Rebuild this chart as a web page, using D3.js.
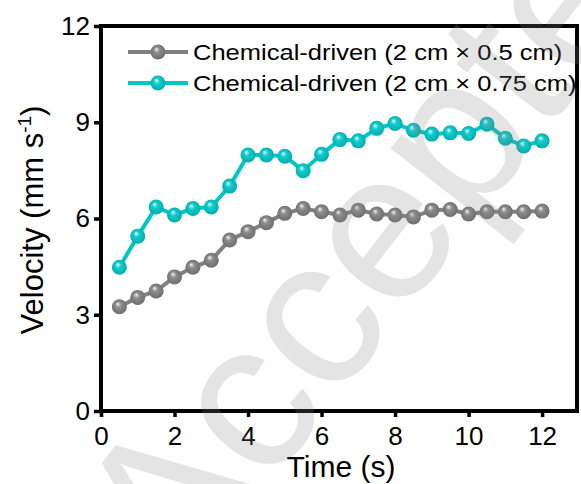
<!DOCTYPE html>
<html>
<head>
<meta charset="utf-8">
<script src="https://cdn.jsdelivr.net/npm/d3@7"></script>
<style>
  body { margin: 0; background: #fff; }
  text { font-family: "Liberation Sans", Arial, sans-serif; }
</style>
</head>
<body>
<div id="chart"></div>
<script>

var width = 581,
    height = 484;

// data
var times = [0.5, 1, 1.5, 2, 2.5, 3, 3.5, 4, 4.5, 5, 5.5, 6, 6.5, 7, 7.5, 8, 8.5, 9, 9.5, 10, 10.5, 11, 11.5, 12];
var velocitySmall = [3.25, 3.54, 3.74, 4.18, 4.48, 4.70, 5.33, 5.59, 5.87, 6.16, 6.31, 6.21, 6.11, 6.26, 6.14, 6.11, 6.05, 6.26, 6.28, 6.14, 6.21, 6.21, 6.21, 6.23];
var velocityLarge = [4.48, 5.45, 6.36, 6.11, 6.31, 6.36, 7.01, 7.98, 7.98, 7.94, 7.49, 8.00, 8.46, 8.42, 8.81, 8.96, 8.75, 8.63, 8.67, 8.65, 8.94, 8.50, 8.26, 8.42];
var seriesNames = ["Chemical-driven (2 cm \u00d7 0.5 cm)", "Chemical-driven (2 cm \u00d7 0.75 cm)"];
var seriesColors = ["#808080", "#00c6c6"];
var xTicks = [0, 2, 4, 6, 8, 10, 12];
var yTicks = [0, 3, 6, 9, 12];

var margin = { top: 26, right: 4, bottom: 73, left: 101 };

var svg = d3.select("#chart")
    .append("svg")
    .attr("width", width)
    .attr("height", height);

var x = d3.scaleLinear()
    .domain([0, 12.95])
    .range([margin.left, width - margin.right]);

var y = d3.scaleLinear()
    .domain([0, 12])
    .range([height - margin.bottom, margin.top]);

// sphere gradients for the markers
var defs = svg.append("defs");
var shades = [
    { id: "ballGray", light: "#f4f4f4", mid: "#8c8c8c", dark: "#6a6a6a" },
    { id: "ballCyan", light: "#e8ffff", mid: "#12cccc", dark: "#00a9aa" }
];
shades.forEach(function (s) {
    var g = defs.append("radialGradient")
        .attr("id", s.id)
        .attr("cx", "50%").attr("cy", "50%").attr("r", "55%")
        .attr("fx", "38%").attr("fy", "30%");
    g.append("stop").attr("offset", "0%").attr("stop-color", s.light);
    g.append("stop").attr("offset", "35%").attr("stop-color", s.mid);
    g.append("stop").attr("offset", "100%").attr("stop-color", s.dark);
});

// axes
var xAxis = svg.append("g")
    .attr("transform", "translate(0," + y(0) + ")")
    .call(d3.axisBottom(x).tickValues(xTicks).tickSize(6).tickSizeOuter(0).tickPadding(10));

var yAxis = svg.append("g")
    .attr("transform", "translate(" + x(0) + ",0)")
    .call(d3.axisLeft(y).tickValues(yTicks).tickSize(7).tickSizeOuter(0).tickPadding(4));

[xAxis, yAxis].forEach(function (a) {
    a.select(".domain").remove();
    a.selectAll(".tick line").attr("stroke", "#000").attr("stroke-width", 3.5);
    a.selectAll(".tick text")
        .attr("fill", "#000")
        .style("font-size", "26px")
        .style("font-family", "'Liberation Sans', Arial, sans-serif");
});

// frame
svg.append("rect")
    .attr("x", x(0))
    .attr("y", y(12))
    .attr("width", x(12.95) - x(0))
    .attr("height", y(0) - y(12))
    .attr("fill", "none")
    .attr("stroke", "#000")
    .attr("stroke-width", 4);

// series
var series = [
    { values: velocitySmall, color: seriesColors[0], ball: "ballGray" },
    { values: velocityLarge, color: seriesColors[1], ball: "ballCyan" }
];

var line = d3.line()
    .x(function (d) { return x(d[0]); })
    .y(function (d) { return y(d[1]); });

series.forEach(function (s) {
    var pts = times.map(function (t, i) { return [t, s.values[i]]; });
    svg.append("path")
        .datum(pts)
        .attr("d", line)
        .attr("fill", "none")
        .attr("stroke", s.color)
        .attr("stroke-width", 4);
    svg.append("g")
        .selectAll("circle")
        .data(pts)
        .enter()
        .append("circle")
        .attr("cx", function (d) { return x(d[0]); })
        .attr("cy", function (d) { return y(d[1]); })
        .attr("r", 7.5)
        .attr("fill", "url(#" + s.ball + ")");
});

// legend
var legend = svg.append("g");
series.forEach(function (s, i) {
    var ly = 52 + i * 31;
    legend.append("line")
        .attr("x1", 128).attr("x2", 188)
        .attr("y1", ly).attr("y2", ly)
        .attr("stroke", s.color)
        .attr("stroke-width", 4);
    legend.append("circle")
        .attr("cx", 158).attr("cy", ly)
        .attr("r", 7.5)
        .attr("fill", "url(#" + s.ball + ")");
    legend.append("text")
        .attr("transform", "translate(193," + (ly + 8) + ") scale(1.16,1)")
        .style("font-size", "22px")
        .text(seriesNames[i]);
});

// axis titles
svg.append("text")
    .attr("x", 341)
    .attr("y", 477)
    .attr("text-anchor", "middle")
    .style("font-size", "30px")
    .text("Time (s)");

var ylab = svg.append("text")
    .attr("transform", "translate(43,220) rotate(-90)")
    .attr("text-anchor", "middle")
    .style("font-size", "31px");
ylab.append("tspan").text("Velocity (mm s");
ylab.append("tspan").attr("dy", -12).style("font-size", "19px").text("-1");
ylab.append("tspan").attr("dy", 12).text(")");

// watermark
svg.append("text")
    .attr("transform", "translate(180,600) rotate(-52)")
    .style("font-size", "212px")
    .attr("fill", "#888")
    .attr("opacity", 0.22)
    .text("Accepted");

</script>
</body>
</html>
